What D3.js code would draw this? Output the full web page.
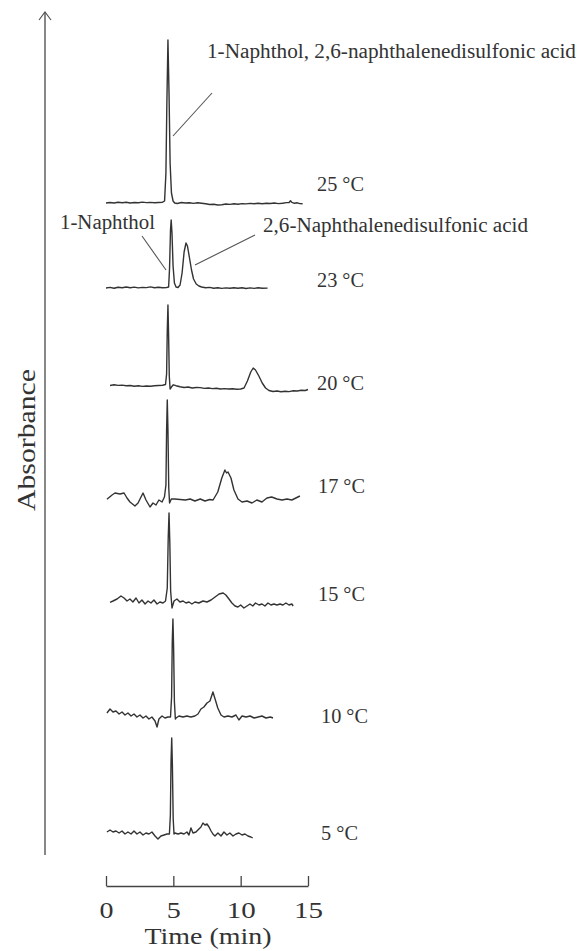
<!DOCTYPE html>
<html>
<head>
<meta charset="utf-8">
<script src="https://cdn.jsdelivr.net/npm/d3@7/dist/d3.min.js"></script>
<style>
  body { margin: 0; background: #fff; }
  svg { display: block; }
  text { font-family: "Times New Roman", Times, "Liberation Serif", "Nimbus Roman", serif; fill: #333; }
</style>
</head>
<body>
<div id="chart"></div>
<script>
// stacked chromatograms, one per column temperature
var temps = ["25 °C", "23 °C", "20 °C", "17 °C", "15 °C", "10 °C", "5 °C"]
// vertical offset of each trace (absorbance, arbitrary units)
var offsets = [657, 572, 474, 360, 257, 143, 27]
var timeTicks = [0, 5, 10, 15]

// [time (min), absorbance above baseline]
var trace25 = [[0.0,0],[0.3,0.5],[0.6,0],[0.9,0.8],[1.2,0.3],[1.5,0.7],[1.8,0],[2.1,0.5],[2.4,0.2],[2.7,0.9],[3.0,0.4],[3.3,0.6],[3.6,0.2],[3.9,0.5],[4.2,0.8],[4.35,2],[4.45,30],[4.52,100],[4.6,163],[4.68,110],[4.76,40],[4.86,10],[4.98,2],[5.1,0],[5.3,-0.5],[5.6,0.5],[5.9,0],[6.2,0.3],[6.5,-0.4],[6.8,0.2],[7.1,-0.3],[7.4,-0.8],[7.7,-1.5],[8.0,-1.2],[8.3,-2],[8.6,-1.8],[8.9,-1],[9.2,-1.4],[9.5,-0.8],[9.8,-1.2],[10.1,-0.6],[10.4,-0.9],[10.7,-0.4],[11.0,-0.8],[11.3,-0.3],[11.6,-0.7],[11.9,-0.2],[12.2,-0.5],[12.5,0],[12.8,-0.6],[13.1,-0.2],[13.4,0.4],[13.6,0.5],[13.7,2.2],[13.8,0.6],[14.0,-0.3],[14.2,0.2],[14.4,-0.6],[14.6,-0.8]]
var trace23 = [[0.0,0],[0.3,0.6],[0.6,-0.3],[0.9,0.8],[1.2,0.2],[1.5,1],[1.8,0.3],[2.1,0.9],[2.4,0.1],[2.7,0.6],[3.0,0.4],[3.3,1.1],[3.6,0.3],[3.9,0.7],[4.2,0.2],[4.5,0.5],[4.65,1],[4.72,20],[4.79,58],[4.84,68],[4.9,55],[4.98,22],[5.08,5],[5.2,1],[5.35,0.5],[5.5,3],[5.65,15],[5.8,36],[5.94,45],[6.05,42],[6.2,30],[6.35,18],[6.5,9],[6.7,4],[6.9,2],[7.1,1],[7.4,0.2],[7.7,0.6],[8.0,-0.2],[8.3,0.3],[8.6,-0.4],[8.9,0.1],[9.2,-0.3],[9.5,0.3],[9.8,-0.2],[10.1,0.2],[10.4,-0.5],[10.7,0.1],[11.0,-0.4],[11.3,0.2],[11.6,-0.3],[12.0,-0.1]]
var trace20 = [[0.3,0.5],[0.6,1.2],[0.9,0.6],[1.2,0.9],[1.5,0.3],[1.8,0.5],[2.1,-0.2],[2.4,0.2],[2.7,-0.4],[3.0,0],[3.3,-0.3],[3.6,0.2],[3.9,0.5],[4.2,0.8],[4.42,1.5],[4.5,12],[4.55,55],[4.6,81],[4.65,50],[4.7,10],[4.76,-3],[4.86,-1],[5.0,1.2],[5.2,0.3],[5.5,-0.8],[5.8,-1.5],[6.1,-1],[6.4,-2],[6.7,-1.5],[7.0,-1.6],[7.3,-2.4],[7.6,-2],[7.9,-2.6],[8.2,-2.2],[8.5,-3],[8.8,-2.6],[9.1,-3],[9.4,-2.8],[9.7,-3.2],[10.0,-3],[10.25,-2],[10.5,5],[10.75,14],[10.93,18],[11.1,16],[11.35,10],[11.6,3],[11.85,-2],[12.1,-4.5],[12.4,-5.5],[12.7,-5],[13.0,-5.8],[13.3,-5.2],[13.6,-5.6],[13.9,-4.8],[14.2,-5],[14.5,-4.2],[14.8,-4.5],[15.0,-3.5]]
var trace17 = [[0.07,0.7],[0.45,5],[0.67,7],[1.04,6],[1.34,7],[1.56,2],[1.78,-2],[2.15,-6],[2.38,-3],[2.6,3],[2.75,7],[2.97,0],[3.27,-7],[3.49,-3],[3.71,-5],[3.93,0],[4.16,-2],[4.34,3],[4.45,15],[4.5,70],[4.55,100],[4.6,70],[4.66,12],[4.72,-3],[4.85,1],[5.1,1],[5.5,0.5],[5.9,0],[6.25,1],[6.6,-1],[7.0,1],[7.35,-1],[7.7,0.5],[7.95,0],[8.3,8],[8.6,22],[8.83,30],[8.95,27],[9.06,28],[9.28,22],[9.5,10],[9.8,1],[10.1,-2],[10.47,-1],[10.84,-3],[11.2,0],[11.58,-2],[11.95,2],[12.3,3],[12.7,1],[13.07,0],[13.44,1],[13.8,0],[14.1,2],[14.4,4]]
var trace15 = [[0.3,0.7],[0.52,2],[0.82,4],[1.11,7],[1.34,5],[1.56,2],[1.78,4],[2.0,1],[2.23,5],[2.45,0],[2.67,3],[2.9,-1],[3.12,2],[3.34,0],[3.56,3],[3.79,-1],[4.0,1],[4.23,0],[4.42,2],[4.55,15],[4.62,65],[4.68,90],[4.74,60],[4.8,12],[4.9,-5],[5.05,2],[5.27,4],[5.49,1],[5.72,2],[5.94,0],[6.16,1],[6.38,-1],[6.6,1],[6.9,0],[7.2,2],[7.5,1],[7.8,3],[8.1,6],[8.4,9],[8.7,10],[8.9,8],[9.13,4],[9.35,0],[9.58,-3],[9.8,-4],[10.0,-2],[10.24,-5],[10.47,-3],[10.69,-1],[10.9,-3],[11.1,0],[11.36,-2],[11.58,-1],[11.8,-3],[12.03,0],[12.25,-2],[12.47,-1],[12.7,-2],[12.92,-1],[13.14,-2],[13.36,0],[13.59,-2],[13.8,-1],[13.9,-3]]
var trace10 = [[0.07,4],[0.3,8],[0.52,5],[0.74,6],[0.97,3],[1.19,5],[1.41,2],[1.63,4],[1.86,1],[2.08,3],[2.3,0],[2.52,2],[2.75,-1],[2.97,1],[3.19,-2],[3.41,0],[3.64,-4],[3.79,-10],[3.93,-2],[4.16,1],[4.38,-1],[4.6,0],[4.79,0],[4.87,20],[4.92,75],[4.97,98],[5.02,70],[5.08,15],[5.15,-2],[5.2,-1],[5.42,1],[5.72,0],[6.0,1],[6.3,0],[6.6,1],[6.83,3],[7.05,8],[7.27,10],[7.5,14],[7.72,16],[7.94,25],[8.1,18],[8.3,9],[8.54,2],[8.76,0],[9.06,1],[9.35,0],[9.65,2],[9.87,-3],[10.1,1],[10.4,0],[10.7,1],[11.0,-1],[11.3,0],[11.58,1],[11.88,-1],[12.2,0],[12.4,-1]]
var trace5 = [[0.07,1],[0.3,3],[0.52,1],[0.74,2],[0.97,0],[1.19,2],[1.41,-1],[1.63,1],[1.86,-1],[2.08,2],[2.3,-1],[2.52,1],[2.75,-2],[2.97,0],[3.19,-1],[3.41,1],[3.64,-3],[3.86,-6],[4.08,-3],[4.31,-2],[4.53,-1],[4.71,-1],[4.78,18],[4.83,72],[4.88,95],[4.93,68],[4.99,14],[5.05,-1],[5.12,0],[5.35,-1],[5.57,0],[5.79,-1],[6.01,1],[6.16,-2],[6.31,5],[6.46,0],[6.68,1],[6.9,4],[7.05,6],[7.2,10],[7.35,8],[7.5,9],[7.65,6],[7.8,2],[7.94,-1],[8.09,-3],[8.31,0],[8.54,-3],[8.76,1],[8.98,-2],[9.2,0],[9.43,-3],[9.65,-1],[9.87,0],[10.1,-2],[10.32,-1],[10.54,-3],[10.76,-4],[10.9,-5]]

var traces = [trace25, trace23, trace20, trace17, trace15, trace10, trace5]

var width = 579, height = 951

var svg = d3.select("#chart").append("svg")
	.attr("width", width)
	.attr("height", height)

var x = d3.scaleLinear().domain([0, 15]).range([106, 308])
var y = d3.scaleLinear().domain([0, 850]).range([860, 10])

var line = d3.line()

// traces
traces.forEach(function(tr, i) {
	svg.append("path")
		.attr("d", line(tr.map(function(d) { return [x(d[0]), y(offsets[i] + d[1])] })))
		.attr("fill", "none")
		.attr("stroke", "#333")
		.attr("stroke-width", 1.4)
		.attr("stroke-linejoin", "round")
})

// temperature labels (widths forced so the serif fallback keeps the reference's spacing)
var labelX = [317, 317, 317, 318, 318, 321, 321]
var labelY = [191, 287, 390, 493, 601, 723, 840]
svg.selectAll(".temp").data(temps).enter().append("text")
	.attr("class", "temp")
	.attr("x", function(d, i) { return labelX[i] })
	.attr("y", function(d, i) { return labelY[i] })
	.attr("textLength", function(d) { return d.length > 4 ? 47 : 37 })
	.attr("lengthAdjust", "spacingAndGlyphs")
	.style("font-size", "20px")
	.text(function(d) { return d })

// peak annotations
var notes = [
	{ text: "1-Naphthol, 2,6-naphthalenedisulfonic acid", x: 207, y: 58, len: 369, line: [212, 93, 173, 136] },
	{ text: "1-Naphthol", x: 60, y: 229, len: 95, line: [142, 236, 166, 270] },
	{ text: "2,6-Naphthalenedisulfonic acid", x: 263, y: 232, len: 265, line: [255, 235, 195, 265] }
]
notes.forEach(function(n) {
	svg.append("text")
		.attr("x", n.x).attr("y", n.y)
		.attr("textLength", n.len)
		.attr("lengthAdjust", "spacingAndGlyphs")
		.style("font-size", "20px")
		.text(n.text)
	svg.append("line")
		.attr("x1", n.line[0]).attr("y1", n.line[1])
		.attr("x2", n.line[2]).attr("y2", n.line[3])
		.attr("stroke", "#555")
		.attr("stroke-width", 1.1)
})

// absorbance axis with arrow
svg.append("line")
	.attr("x1", 45).attr("y1", 855)
	.attr("x2", 45).attr("y2", 12)
	.attr("stroke", "#555")
	.attr("stroke-width", 1.4)
svg.append("path")
	.attr("d", "M39,20L45,12L51,20")
	.attr("fill", "none")
	.attr("stroke", "#555")
	.attr("stroke-width", 1.2)
svg.append("text")
	.attr("transform", "translate(35,440) rotate(-90)")
	.attr("text-anchor", "middle")
	.attr("textLength", 142)
	.attr("lengthAdjust", "spacingAndGlyphs")
	.style("font-size", "26px")
	.text("Absorbance")

// time axis
var xAxis = d3.axisBottom(x)
	.tickValues(timeTicks)
	.tickSizeInner(-10)
	.tickSizeOuter(0)
	.tickPadding(16)

var gx = svg.append("g")
	.attr("transform", "translate(0,886)")
	.call(xAxis)
gx.select(".domain").attr("stroke", "#444").attr("stroke-width", 1.3)
gx.selectAll(".tick line").attr("stroke", "#444").attr("stroke-width", 1.3)
gx.selectAll(".tick text")
	.attr("fill", "#333")
	.attr("textLength", function(d) { return d < 10 ? 14 : 29 })
	.attr("lengthAdjust", "spacingAndGlyphs")
	.style("font-family", "'Times New Roman', Times, serif")
	.style("font-size", "23px")

svg.append("text")
	.attr("x", 208).attr("y", 944)
	.attr("text-anchor", "middle")
	.attr("textLength", 127)
	.attr("lengthAdjust", "spacingAndGlyphs")
	.style("font-size", "23px")
	.text("Time (min)")
</script>
</body>
</html>
